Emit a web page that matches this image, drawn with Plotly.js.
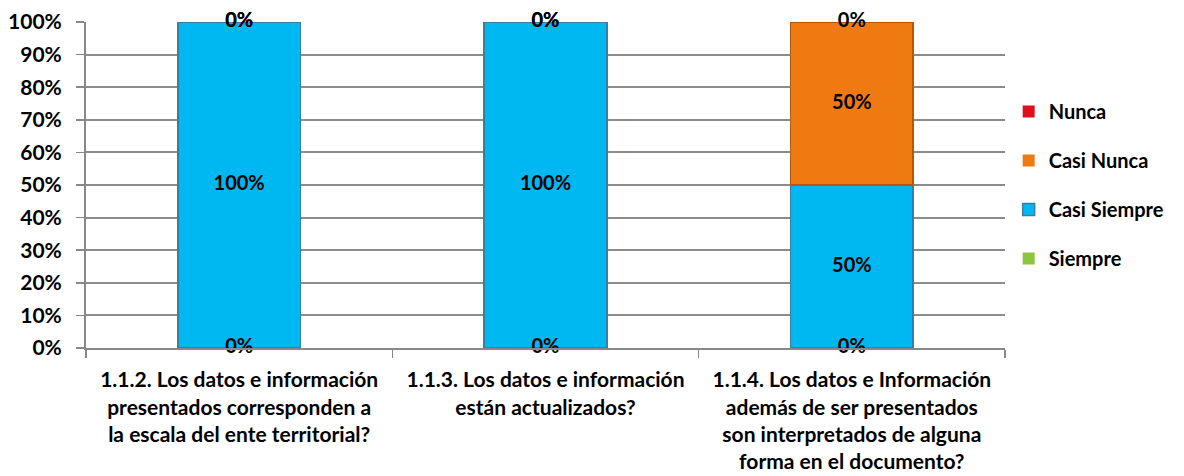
<!DOCTYPE html>
<html>
<head>
<meta charset="utf-8">
<script src="https://cdn.plot.ly/plotly-3.0.1.min.js"></script>
<style>html,body{margin:0;padding:0;background:#fff;}#chart{width:1184px;height:476px;}</style>
</head>
<body>
<div id="chart"></div>
<script>
const categories = [
  "1.1.2. Los datos e información<br>presentados corresponden a<br>la escala del ente territorial?",
  "1.1.3. Los datos e información<br>están actualizados?",
  "1.1.4. Los datos e Información<br>además de ser presentados<br>son interpretados de alguna<br>forma en el documento?"
];
const siempre = [0, 0, 0];
const casiSiempre = [1, 1, 0.5];
const casiNunca = [0, 0, 0.5];
const nunca = [0, 0, 0];

const seriesNames = ["Siempre", "Casi Siempre", "Casi Nunca", "Nunca"];
const seriesValues = [siempre, casiSiempre, casiNunca, nunca];
const seriesColors = ["#8CC63F", "#00B8F1", "#F07A12", "#E0101A"];
const seriesLines = ["#5E8F2A", "#3A7FA0", "#B5580A", "#A00010"];

const FONT = "Lato, 'Open Sans', sans-serif";
const traces = [];
seriesNames.forEach((name, i) => {
  traces.push({
    type: "bar", name: name, x: categories, y: seriesValues[i],
    marker: {color: seriesColors[i],
             line: {color: seriesLines[i], width: seriesValues[i].map(v => v > 0 ? 1.5 : 0)}},
    width: 0.4, legendgroup: name, legendrank: seriesNames.length - i, hoverinfo: "skip"
  });
});
// data labels at centre of each stacked segment
const cum = [0, 0, 0];
seriesValues.forEach((vals) => {
  const ys = vals.map((v, j) => cum[j] + v / 2);
  vals.forEach((v, j) => { cum[j] += v; });
  traces.push({
    type: "scatter", mode: "text", x: categories, y: ys,
    text: vals.map(v => Math.round(v * 100) + "%"),
    textposition: "middle center",
    textfont: {family: FONT, size: 20, color: "#000", weight: "bold"},
    showlegend: false, hoverinfo: "skip", cliponaxis: false
  });
});

const layout = {
  width: 1184, height: 476,
  margin: {l: 86, r: 179, t: 22, b: 128},
  paper_bgcolor: "#fff", plot_bgcolor: "#fff",
  barmode: "stack",
  font: {family: FONT, color: "#000"},
  xaxis: {
    type: "category", tickson: "boundaries", ticks: "outside", ticklen: 8,
    tickcolor: "#888", tickwidth: 1.5,
    showline: true, linecolor: "#888", linewidth: 2,
    tickfont: {family: FONT, size: 21, weight: "bold", color: "#000"},
    ticklabelstandoff: 12,
    showgrid: false
  },
  yaxis: {
    range: [0, 1], dtick: 0.1, tickformat: ".0%",
    ticks: "outside", ticklen: 8, tickcolor: "#888", tickwidth: 1.5,
    showline: true, linecolor: "#888", linewidth: 2,
    gridcolor: "#8c8c8c", gridwidth: 2,
    tickfont: {family: FONT, size: 21, weight: "bold", color: "#000"},
    ticklabelstandoff: 10,
    zeroline: false, fixedrange: true
  },
  showlegend: true,
  legend: {
    x: 1.004, xanchor: "left", y: 0.5, yanchor: "middle",
    traceorder: "grouped", tracegroupgap: 20,
    font: {family: FONT, size: 20, weight: "bold", color: "#000"},
    itemwidth: 30, bgcolor: "rgba(0,0,0,0)"
  }
};

Plotly.newPlot("chart", traces, layout, {displayModeBar: false, staticPlot: true});
</script>
</body>
</html>
